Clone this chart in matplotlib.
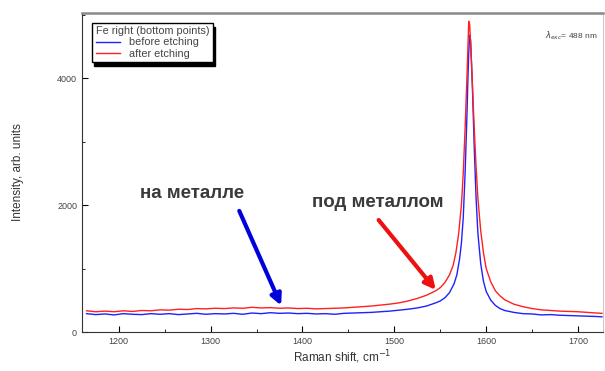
import matplotlib

matplotlib.use("Agg")

import matplotlib.pyplot as plt
from matplotlib.ticker import MultipleLocator

plt.rcParams["font.family"] = ["Liberation Sans", "DejaVu Sans"]

# Raman shift (cm^-1) and intensity
before_x = [1165, 1175, 1185, 1195, 1205, 1215, 1225, 1235, 1245, 1255, 1265, 1275, 1285,
            1295, 1305, 1315, 1325, 1335, 1345, 1355, 1365, 1375, 1385, 1395, 1405, 1415,
            1425, 1435, 1445, 1455, 1465, 1475, 1485, 1495, 1505, 1515, 1525, 1535, 1545,
            1550, 1555, 1560, 1565, 1568, 1571, 1573, 1575, 1577, 1579, 1580, 1581, 1582,
            1583, 1584, 1585, 1587, 1589, 1591, 1594, 1597, 1600, 1605, 1610, 1615, 1620,
            1630, 1640, 1650, 1660, 1670, 1680, 1690, 1700, 1710, 1720, 1726]
before_y = [290, 275, 285, 270, 290, 280, 275, 290, 280, 290, 275, 285, 295,
            280, 290, 285, 295, 280, 300, 290, 305, 295, 300, 290, 295, 285,
            290, 280, 295, 300, 305, 310, 320, 330, 345, 360, 380, 410, 460,
            490, 540, 620, 760, 900, 1150, 1400, 1800, 2500, 3400, 3950, 4400, 4680,
            4600, 4250, 3850, 2900, 2100, 1550, 1080, 800, 640, 500, 420, 370, 340,
            310, 290, 285, 270, 275, 265, 260, 255, 250, 245, 240]

after_x = [1165, 1175, 1185, 1195, 1205, 1215, 1225, 1235, 1245, 1255, 1265, 1275, 1285,
           1295, 1305, 1315, 1325, 1335, 1345, 1355, 1365, 1375, 1385, 1395, 1405, 1415,
           1425, 1435, 1445, 1455, 1465, 1475, 1485, 1495, 1505, 1515, 1525, 1535, 1545,
           1550, 1555, 1560, 1564, 1567, 1570, 1573, 1575, 1577, 1579, 1580, 1581, 1582,
           1583, 1585, 1587, 1589, 1591, 1594, 1597, 1600, 1605, 1610, 1615, 1620, 1630,
           1640, 1650, 1660, 1670, 1680, 1690, 1700, 1710, 1720, 1726]
after_y = [335, 320, 330, 320, 335, 325, 340, 335, 350, 345, 360, 355, 370,
           365, 375, 370, 380, 375, 390, 380, 385, 375, 380, 370, 375, 365,
           370, 375, 380, 390, 400, 410, 425, 440, 460, 490, 530, 580, 650,
           700, 780, 900, 1050, 1250, 1550, 2000, 2500, 3200, 4000, 4450, 4900, 4850,
           4550, 3900, 3200, 2600, 2100, 1600, 1250, 1000, 790, 650, 570, 510, 440,
           400, 370, 350, 340, 330, 325, 320, 310, 300, 295]

x_ticks = [1200, 1300, 1400, 1500, 1600, 1700]
y_ticks = [0, 2000, 4000]

fig = plt.figure(figsize=(6.05, 3.71), dpi=100)
ax = fig.add_axes([0.1355, 0.105, 0.861, 0.86])

ax.plot(before_x, before_y, color="#2020ff", lw=1.0, label="before etching")
ax.plot(after_x, after_y, color="#ff2020", lw=1.0, label="after etching")

ax.set_xlim(1160, 1727)
ax.set_ylim(0, 5030)
ax.set_xticks(x_ticks)
ax.set_yticks(y_ticks)
ax.xaxis.set_minor_locator(MultipleLocator(50))
ax.yaxis.set_minor_locator(MultipleLocator(1000))
ax.tick_params(which="both", direction="in", labelsize=6.5, labelcolor="#444444")
ax.tick_params(which="major", length=4)
ax.tick_params(which="minor", length=2)

ax.spines["top"].set_color("#888888")
ax.spines["top"].set_linewidth(1.8)
ax.spines["right"].set_color("#cccccc")
ax.spines["left"].set_color("#333333")
ax.spines["bottom"].set_color("#333333")

ax.set_xlabel("Raman shift, cm$^{-1}$", fontsize=8.5, color="#333333", labelpad=2)
ax.set_ylabel("Intensity, arb. units", fontsize=8.5, color="#333333", labelpad=24)

leg = ax.legend(title="Fe right (bottom points)", loc="upper left",
                bbox_to_anchor=(0.02, 0.97), fontsize=7.8, title_fontsize=7.8,
                frameon=True, fancybox=False, edgecolor="black",
                shadow=dict(ox=1, oy=-3, color="black", alpha=1),
                handlelength=2.2, borderpad=0.35, labelspacing=0.1,
                borderaxespad=0)
leg._legend_box.align = "left"
for t in leg.get_texts() + [leg.get_title()]:
    t.set_color("#444444")

ax.text(0.99, 0.93, r"$\lambda_{exc}$= 488 nm", transform=ax.transAxes,
        ha="right", va="center", fontsize=6, color="#444444")

ax.annotate("", xy=(1378, 378), xytext=(1330, 1950),
            arrowprops=dict(arrowstyle="-|>", color="#0000dd", lw=3, mutation_scale=16))
ax.annotate("", xy=(1547, 630), xytext=(1481, 1800),
            arrowprops=dict(arrowstyle="-|>", color="#ee1010", lw=3, mutation_scale=16))

ax.text(1280, 2190, "на металле", ha="center", va="center", fontsize=13.5,
        fontweight="bold", color="#3a3a3a")
ax.text(1482, 2050, "под металлом", ha="center", va="center", fontsize=13.5,
        fontweight="bold", color="#3a3a3a")

fig.savefig("out.png", dpi=100)
